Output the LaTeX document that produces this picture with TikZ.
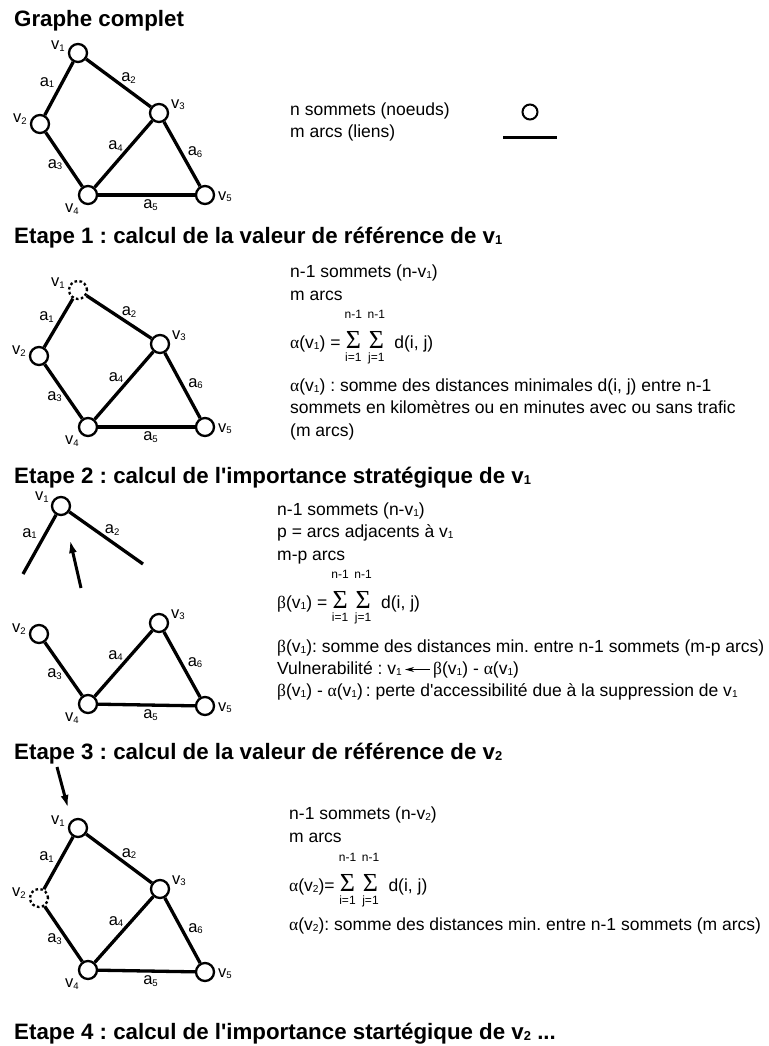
\documentclass[tikz,border=0pt]{standalone}
\usepackage{fontspec}
\setmainfont{Liberation Sans}
\newfontfamily\grk{Liberation Serif}
\usetikzlibrary{arrows.meta,positioning}

\makeatletter
\newcommand{\ix}[1]{\raisebox{-0.08em}{\fontsize{\fpeval{0.58*\f@size}}{0}\selectfont #1}}
\makeatother
\newcommand{\somme}[2]{%
  \makebox[0pt][l]{\makebox[16pt]{\raisebox{29.5pt}{\fontsize{12}{12}\selectfont #1}}}%
  \makebox[0pt][l]{\makebox[16pt]{\raisebox{-13.5pt}{\fontsize{12}{12}\selectfont #2}}}%
  \makebox[16pt]{\grk\fontsize{26}{26}\selectfont Σ}}

\begin{document}
\frenchspacing
\begin{tikzpicture}[x=1pt,y=-1pt,>=Stealth,
  vtx/.style={circle,draw,line width=2.3pt,fill=white,minimum size=18pt,inner sep=0pt},
  vtxpt/.style={vtx,dash pattern=on 2.6pt off 2.4pt},
  arete/.style={line width=3.3pt},
  lbl/.style={font=\fontsize{16.5}{16.5}\selectfont,inner sep=0pt},
  txt/.style={font=\fontsize{17.5}{22.5}\selectfont,align=left,anchor=base west,inner sep=0pt},
  ligne/.style={font=\fontsize{17.5}{22.5}\selectfont,anchor=base west,inner sep=0pt,text height=13pt,text depth=4pt},
  titre/.style={font=\bfseries\fontsize{22.3}{22.3}\selectfont,anchor=base west,inner sep=0pt},
  fleche/.style={line width=3pt,-{Latex[length=13pt,width=8pt]}}]

  \useasboundingbox (0,0) rectangle (768,1046);

  % graphe complet
  \node[titre] (t0) at (14,27) {Graphe complet};
  \foreach \n/\x/\y/\s/\dx/\dy in {1/78/53/vtx/-20/-7,2/40/124/vtx/-20/-5,3/159/113/vtx/19/-8,
                                   4/88/195/vtx/-16/14,5/205/195/vtx/20/2}{
    \node[\s] (g\n) at (\x,\y) {};
    \node[lbl] (gv\n) at (\x+\dx,\y+\dy) {v\ix{\n}};
  }
  \foreach \u/\v/\k/\dx/\dy in {1/2/1/-12/-6,1/3/2/10/-5,2/4/3/-9/5,3/4/4/-8/-8,4/5/5/4/10,3/5/6/13/-2}
    \draw[arete] (g\u) -- node[lbl,shift={(\dx,\dy)}] (ga\k) {a\ix{\k}} (g\v);

  % legende
  \node[txt] (leg) at (290,138) {n sommets (noeuds)\\m arcs (liens)};
  \node[vtx,line width=2pt,minimum size=15pt] (legs) at (530,112) {};
  \coordinate (lega) at (503,137);
  \coordinate (legb) at (557,137);
  \draw[arete,line width=3pt] (lega) -- (legb);

  % etape 1
  \node[titre] (t1) at (14,243) {Etape 1 : calcul de la valeur de référence de v\ix1};
  \foreach \n/\x/\y/\s/\dx/\dy in {1/78/290/vtxpt/-20/-7,2/39/356/vtx/-20/-5,3/160/344/vtx/19/-8,
                                   4/88/427/vtx/-16/14,5/205/427/vtx/20/2}{
    \node[\s] (e\n) at (\x,\y) {};
    \node[lbl] (ev\n) at (\x+\dx,\y+\dy) {v\ix{\n}};
  }
  \foreach \u/\v/\k/\dx/\dy in {1/2/1/-12/-6,1/3/2/10/-5,2/4/3/-9/5,3/4/4/-8/-8,4/5/5/4/10,3/5/6/13/-2}
    \draw[arete] (e\u) -- node[lbl,shift={(\dx,\dy)}] (ea\k) {a\ix{\k}} (e\v);
  \node[txt] (e1a) at (290,300) {n-1 sommets (n-v\ix1)\\m arcs};
  \node[txt] (e1f) at (290,348) {{\grk α}(v\ix1) = \somme{n-1}{i=1}\hspace{7pt}\somme{n-1}{j=1}\hspace{10pt}d(i, j)};
  \node[txt] (e1b) at (290,436) {{\grk α}(v\ix1) : somme des distances minimales d(i, j) entre n-1\\
    sommets en kilomètres ou en minutes avec ou sans trafic\\(m arcs)};

  % etape 2
  \node[titre] (t2) at (14,483) {Etape 2 : calcul de l\textquotesingle importance stratégique de v\ix1};
  \node[vtx] (d1) at (61,506) {};
  \node[lbl] (dv1) at (42,497) {v\ix1};
  \coordinate (d1g) at (23,574);
  \coordinate (d1d) at (143,564);
  \draw[arete] (d1) -- node[lbl,shift={(-10,-11)}] (da1) {a\ix1} (d1g);
  \draw[arete] (d1) -- node[lbl,shift={(6,-8)}] (da2) {a\ix2} (d1d);
  \coordinate (f2q) at (81,588);
  \coordinate (f2t) at (70,540);
  \draw[fleche] (f2q) -- (f2t);
  \foreach \n/\x/\y/\dx/\dy in {2/39/634/-20/-5,3/159/623/19/-8,4/88/704/-16/14,5/205/706/20/2}{
    \node[vtx] (d\n) at (\x,\y) {};
    \node[lbl] (dv\n) at (\x+\dx,\y+\dy) {v\ix{\n}};
  }
  \foreach \u/\v/\k/\dx/\dy in {2/4/3/-9/5,3/4/4/-8/-8,4/5/5/4/10,3/5/6/13/-2}
    \draw[arete] (d\u) -- node[lbl,shift={(\dx,\dy)}] (da\k) {a\ix{\k}} (d\v);
  \node[txt] (e2a) at (277,560) {n-1 sommets (n-v\ix1)\\p = arcs adjacents à v\ix1\\m-p arcs};
  \node[txt] (e2f) at (277,608) {{\grk β}(v\ix1) = \somme{n-1}{i=1}\hspace{7pt}\somme{n-1}{j=1}\hspace{10pt}d(i, j)};
  \node[txt] (e2b) at (277,652) {{\grk β}(v\ix1): somme des distances min. entre n-1 sommets (m-p arcs)};
  \node[ligne] (vul) at (277,674) {Vulnerabilité : v\ix1};
  \node[ligne,base right=31pt of vul] (diff) {{\grk β}(v\ix1) - {\grk α}(v\ix1)};
  \draw[line width=0.9pt,shorten <=3pt,shorten >=3pt,-{Stealth[length=9pt,width=5pt]}] (diff) -- (vul);
  \node[txt] (e2c) at (277,696) {{\grk β}(v\ix1) - {\grk α}(v\ix1)\,: perte d\textquotesingle accessibilité due à la suppression de v\ix1};

  % etape 3
  \node[titre] (t3) at (14,759) {Etape 3 : calcul de la valeur de référence de v\ix2};
  \coordinate (f3q) at (57,767);
  \coordinate (f3t) at (68,808);
  \draw[fleche] (f3q) -- (f3t);
  \foreach \n/\x/\y/\s/\dx/\dy in {1/78/828/vtx/-20/-7,2/39/898/vtxpt/-20/-5,3/160/889/vtx/19/-8,
                                   4/88/970/vtx/-16/14,5/205/972/vtx/20/2}{
    \node[\s] (c\n) at (\x,\y) {};
    \node[lbl] (cv\n) at (\x+\dx,\y+\dy) {v\ix{\n}};
  }
  \foreach \u/\v/\k/\dx/\dy in {1/2/1/-12/-6,1/3/2/10/-5,2/4/3/-9/5,3/4/4/-8/-8,4/5/5/4/10,3/5/6/13/-2}
    \draw[arete] (c\u) -- node[lbl,shift={(\dx,\dy)}] (ca\k) {a\ix{\k}} (c\v);
  \node[txt] (e3a) at (289,842) {n-1 sommets (n-v\ix2)\\m arcs};
  \node[txt] (e3f) at (289,891) {{\grk α}(v\ix2)= \somme{n-1}{i=1}\hspace{7pt}\somme{n-1}{j=1}\hspace{10pt}d(i, j)};
  \node[txt] (e3b) at (289,930) {{\grk α}(v\ix2): somme des distances min. entre n-1 sommets (m arcs)};

  % etape 4
  \node[titre] (t4) at (14,1039) {Etape 4 : calcul de l\textquotesingle importance startégique de v\ix2 ...};
\end{tikzpicture}
\end{document}
